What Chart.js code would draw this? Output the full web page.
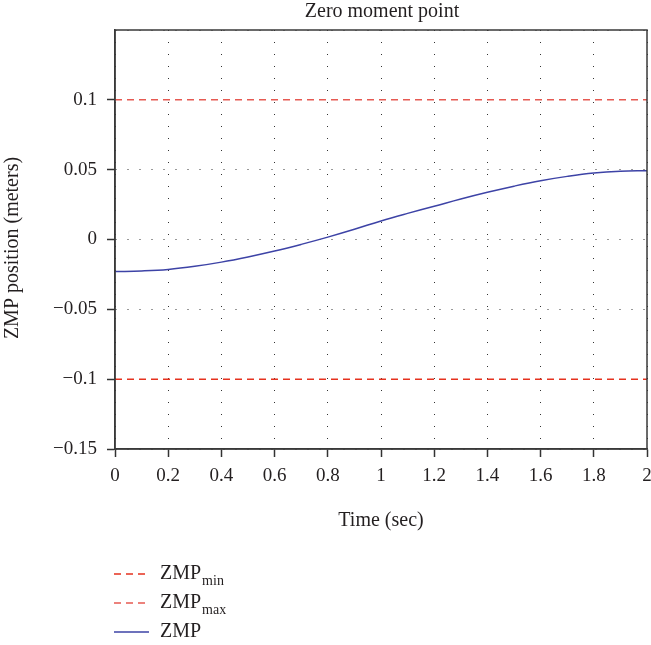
<!DOCTYPE html>
<html>
<head>
<meta charset="utf-8">
<script src="https://cdn.jsdelivr.net/npm/chart.js@4"></script>
<style>
  html, body { margin: 0; padding: 0; background: #fff; }
  #wrap { width: 651px; height: 645px; }
</style>
</head>
<body>
<div id="wrap"><canvas id="zmpChart" width="651" height="645"></canvas></div>
<script>
// time axis (sec)
const timeSec = [0, 0.1, 0.2, 0.3, 0.4, 0.5, 0.6, 0.7, 0.8, 0.9, 1.0,
                 1.1, 1.2, 1.3, 1.4, 1.5, 1.6, 1.7, 1.8, 1.9, 2.0];
// ZMP trajectory (meters)
const zmpPos = [-0.0230, -0.0225, -0.0214, -0.0192, -0.0162, -0.0125, -0.0083, -0.0035, 0.0017, 0.0073, 0.0133,
                0.0187, 0.0238, 0.0290, 0.0338, 0.0382, 0.0421, 0.0452, 0.0476, 0.0489, 0.0493];
// limits
const zmpMin = -0.1;
const zmpMax = 0.1;
const xRange = [0, 2];
const yRange = [-0.15, 0.15];
const hiddenYTicks = [0.15];

const FONT = "'Liberation Serif', 'DejaVu Serif', serif";
const TXT = '#231f20';

function fmt(v) {
  const s = String(parseFloat(v.toFixed(4)));
  return s.replace('-', '\u2212');
}
function isHidden(v) {
  return hiddenYTicks.some(h => Math.abs(h - v) < 1e-9);
}

// frame, titles and legend with subscripts
const decor = {
  id: 'decor',
  afterDraw(chart) {
    const ctx = chart.ctx;
    const a = chart.chartArea;
    ctx.save();
    ctx.strokeStyle = '#3a3a3a';
    ctx.lineWidth = 1.5;
    ctx.strokeRect(a.left, a.top, a.right - a.left, a.bottom - a.top);

    ctx.fillStyle = TXT;
    ctx.font = '20px ' + FONT;
    ctx.textAlign = 'center';
    ctx.textBaseline = 'middle';
    ctx.fillText('Zero moment point', (a.left + a.right) / 2 + 1, 12);

    // y axis title
    ctx.save();
    ctx.translate(13, 248);
    ctx.rotate(-Math.PI / 2);
    ctx.fillText('ZMP position (meters)', 0, 0);
    ctx.restore();

    const items = [
      { ds: 0, main: 'ZMP', sub: 'min', y: 574 },
      { ds: 1, main: 'ZMP', sub: 'max', y: 603 },
      { ds: 2, main: 'ZMP', sub: '', y: 632 }
    ];
    items.forEach(it => {
      const d = chart.data.datasets[it.ds];
      ctx.strokeStyle = d.borderColor;
      ctx.lineWidth = d.borderWidth;
      ctx.setLineDash(d.borderDash || []);
      ctx.beginPath();
      ctx.moveTo(114, it.y);
      ctx.lineTo(149, it.y);
      ctx.stroke();
      ctx.setLineDash([]);
      ctx.fillStyle = TXT;
      ctx.textAlign = 'left';
      ctx.textBaseline = 'middle';
      ctx.font = '20px ' + FONT;
      ctx.fillText(it.main, 160, it.y);
      if (it.sub) {
        const w = ctx.measureText(it.main).width;
        ctx.font = '14px ' + FONT;
        ctx.fillText(it.sub, 160 + w + 1, it.y + 7);
      }
    });
    ctx.restore();
  }
};

new Chart(document.getElementById('zmpChart'), {
  type: 'line',
  data: {
    datasets: [
      {
        label: 'ZMPmin',
        data: xRange.map(x => ({ x: x, y: zmpMin })),
        borderColor: '#e5321f',
        borderWidth: 1.5,
        borderDash: [7, 5],
        pointRadius: 0
      },
      {
        label: 'ZMPmax',
        data: xRange.map(x => ({ x: x, y: zmpMax })),
        borderColor: '#e65a52',
        borderWidth: 1.5,
        borderDash: [7, 5],
        pointRadius: 0
      },
      {
        label: 'ZMP',
        data: timeSec.map((t, i) => ({ x: t, y: zmpPos[i] })),
        borderColor: '#3d43a6',
        borderWidth: 1.5,
        pointRadius: 0,
        tension: 0.4
      }
    ]
  },
  options: {
    responsive: false,
    animation: false,
    layout: { padding: { left: 0, right: 4, top: 30, bottom: 112 } },
    plugins: {
      legend: { display: false },
      title: { display: false },
      tooltip: { enabled: false }
    },
    scales: {
      x: {
        type: 'linear',
        min: xRange[0],
        max: xRange[1],
        afterFit(s) { s.height = 84; s.paddingLeft = 0; s.paddingRight = 0; },
        ticks: {
          stepSize: 0.2,
          color: TXT,
          padding: 8,
          maxRotation: 0,
          font: { family: FONT, size: 19 },
          callback: v => fmt(v)
        },
        grid: {
          color: '#333',
          lineWidth: 1,
          tickLength: 8,
          tickColor: '#333',
          tickWidth: 1.5
        },
        border: { color: '#3a3a3a', width: 1.5, dash: [1, 11] },
        title: {
          display: true,
          text: 'Time (sec)',
          color: TXT,
          font: { family: FONT, size: 20 },
          padding: { top: 0, bottom: 0 }
        }
      },
      y: {
        type: 'linear',
        min: yRange[0],
        max: yRange[1],
        afterFit(s) { s.width = 115; s.paddingTop = 0; s.paddingBottom = 0; },
        ticks: {
          stepSize: 0.05,
          color: TXT,
          padding: 10,
          font: { family: FONT, size: 19 },
          callback: v => isHidden(v) ? '' : fmt(v)
        },
        grid: {
          color: '#333',
          lineWidth: 1,
          tickLength: 8,
          tickColor: ctx => (ctx.tick && isHidden(ctx.tick.value)) ? 'rgba(0,0,0,0)' : '#333',
          tickWidth: 1.5
        },
        border: { color: '#3a3a3a', width: 1.5, dash: [1, 11] },
        title: { display: false }
      }
    }
  },
  plugins: [decor]
});
</script>
</body>
</html>
